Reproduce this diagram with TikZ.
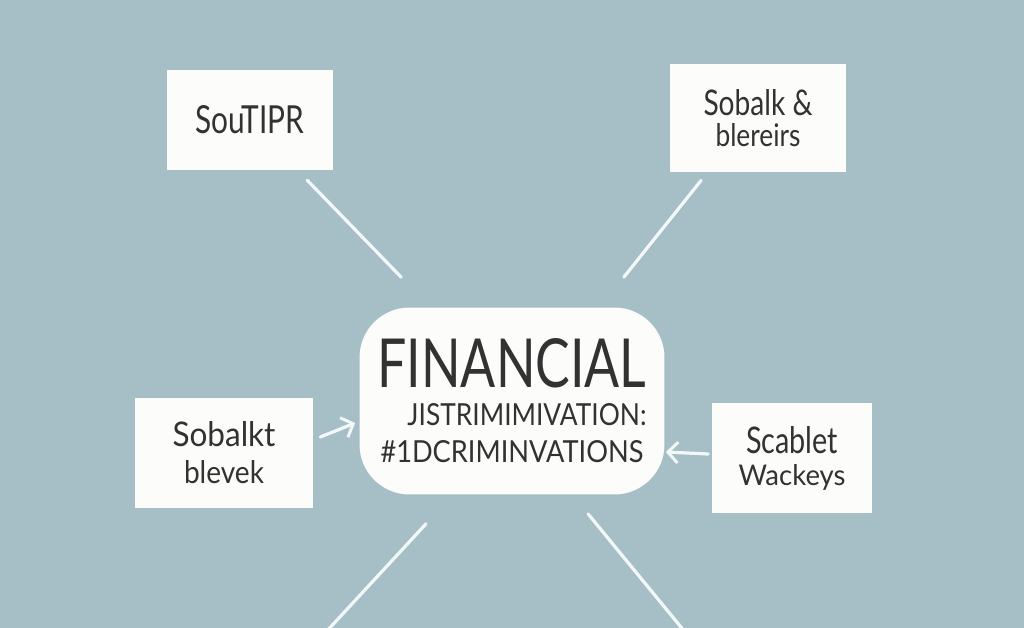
\documentclass[tikz,border=0pt]{standalone}
\usepackage{fontspec}
\setmainfont{Lato}
\usetikzlibrary{arrows.meta}
\definecolor{bg}{RGB}{166,190,198}
\definecolor{ink}{RGB}{50,50,50}
\definecolor{paper}{RGB}{252,252,250}
\definecolor{wire}{RGB}{242,247,249}
\newdimen\pxu \pxu=0.02cm
\newcommand{\fitline}[3]{\resizebox{#1\pxu}{#2\pxu}{#3}}
\tikzset{
  card/.style={fill=paper, draw=none, inner sep=0pt, align=center, text=ink},
  hub/.style={card, rounded corners=1.0cm},
  wireline/.style={draw=wire, line width=0.065cm, line cap=round},
  wirearrow/.style={wireline, -{Straight Barb[length=0.2cm,width=0.42cm,line width=0.06cm]}}
}
\begin{document}
\begin{tikzpicture}[x=0.02cm, y=-0.02cm]
\path[fill=bg, use as bounding box] (0,0) rectangle (1024,628);

\node[card, minimum width=3.32cm, minimum height=2.0cm,
      font=\fontsize{20}{0.64cm}\selectfont] (tl) at (250,120)
  {\fitline{109}{28}{SouTIPR}};
\node[card, minimum width=3.54cm, minimum height=2.16cm,
      font=\fontsize{20}{0.62cm}\selectfont] (tr) at (758,118)
  {\fitline{109}{26}{Sobalk \&}\\\fitline{85}{23}{blereirs}};
\node[card, minimum width=3.56cm, minimum height=2.2cm,
      font=\fontsize{20}{0.74cm}\selectfont] (l) at (224,453)
  {\fitline{103}{25}{Sobalkt}\\\fitline{80}{23}{blevek}};
\node[card, minimum width=3.22cm, minimum height=2.2cm,
      font=\fontsize{20}{0.64cm}\selectfont] (r) at (792,458)
  {\fitline{92}{27}{Scablet}\\\fitline{107}{21}{Wackeys}};
\node[hub, minimum width=6.1cm, minimum height=3.74cm,
      font=\fontsize{20}{0.75cm}\selectfont] (c) at (512,401)
  {\fitline{269}{49}{FINANCIAL}\\
   \hspace*{0.6cm}\fitline{239}{22}{JISTRIMIMIVATION:}\\
   \fitline{263}{22}{\#1DCRIMINVATIONS}};

\coordinate (bl) at (326,632);
\coordinate (br) at (685,632);

\draw[wireline] ([shift={(-26,10)}]tl.south east) -- ([shift={(42,-30)}]c.north west);
\draw[wireline] ([shift={(32,8)}]tr.south west) -- ([shift={(-41,-30)}]c.north east);
\draw[wirearrow] ([shift={(7,-16)}]l.east) -- ([shift={(-4,22)}]c.west);
\draw[wirearrow] ([shift={(-3,-4)}]r.west) -- ([shift={(1,51)}]c.east);
\draw[wireline] ([shift={(-86,29)}]c.south) -- (bl);
\draw[wireline] ([shift={(76,19)}]c.south) -- (br);
\end{tikzpicture}
\end{document}
